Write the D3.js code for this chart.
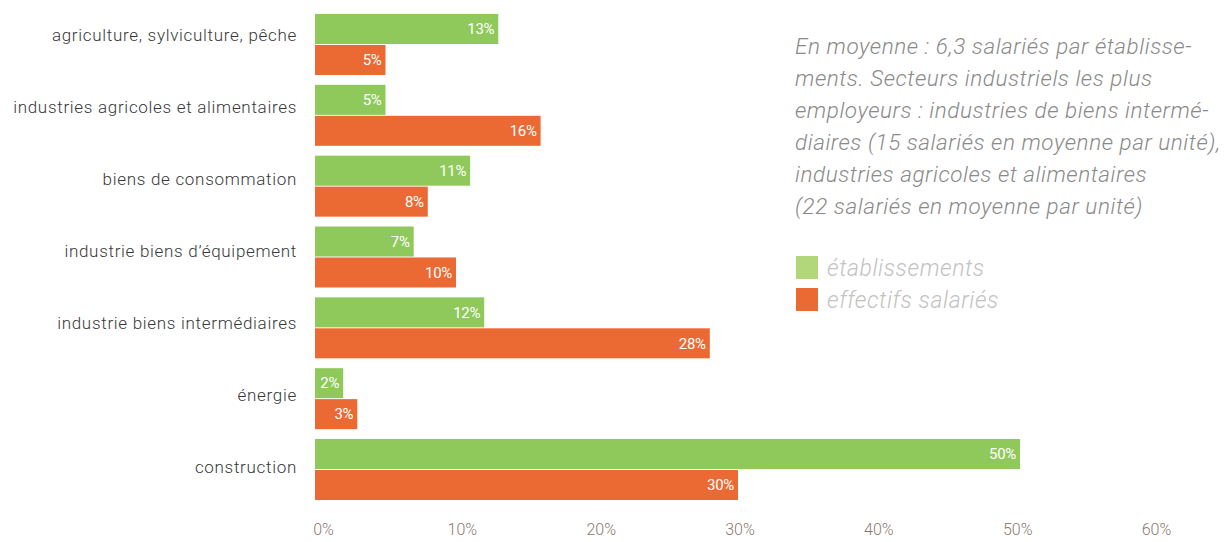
<!DOCTYPE html>
<html>
<head>
<meta charset="utf-8">
<script src="https://cdn.jsdelivr.net/npm/d3@7"></script>
<style>
  html, body { margin: 0; padding: 0; background: #fff; }
  svg { display: block; font-family: Roboto, "DejaVu Sans", sans-serif; }
</style>
</head>
<body>
<svg id="chart" width="1227" height="542"></svg>
<script>
// Sectors, top to bottom
const categories = [
  "agriculture, sylviculture, pêche",
  "industries agricoles et alimentaires",
  "biens de consommation",
  "industrie biens d\u2019équipement",
  "industrie biens intermédiaires",
  "énergie",
  "construction"
];
// Share of establishments (%) per sector
const etablissements = [13, 5, 11, 7, 12, 2, 50];
// Share of salaried staff (%) per sector
const effectifs = [5, 16, 8, 10, 28, 3, 30];
const seriesNames = ["établissements", "effectifs salariés"];
const tickValues = [0, 10, 20, 30, 40, 50, 60];
const noteLines = [
  "En moyenne : 6,3 salariés par établisse-",
  "ments. Secteurs industriels les plus",
  "employeurs : industries de biens intermé-",
  "diaires (15 salariés en moyenne par unité),",
  "industries agricoles et alimentaires",
  "(22 salariés en moyenne par unité)"
];

const colors = { bar: ["#8fc95c", "#eb6a33"], legend: ["#b2d67a", "#eb6a33"] };

const svg = d3.select("#chart");

const rows = categories.map((c, i) => ({ cat: c, values: [etablissements[i], effectifs[i]] }));

// Horizontal value scale for the bars
const x = d3.scaleLinear().domain([0, 50]).range([315, 1020]);
// Tick labels sit on their own evenly spaced track
const xTicks = d3.scaleLinear().domain([0, 60]).range([323, 1156]);

// Sector groups
const y = d3.scaleBand().domain(categories).range([14, 500]).paddingInner(0.139).paddingOuter(0);
const ySub = d3.scaleBand().domain([0, 1]).range([0, y.bandwidth()]).paddingInner(0.03);
// Sector labels on their own track
const yLabel = d3.scalePoint().domain(categories).range([35, 467]);

// Bars
const groups = svg.append("g").selectAll("g")
  .data(rows).join("g")
  .attr("transform", d => `translate(0,${y(d.cat)})`);

groups.selectAll("rect")
  .data(d => d.values.map((v, k) => ({ v, k })))
  .join("rect")
  .attr("x", x(0))
  .attr("y", d => ySub(d.k))
  .attr("width", d => x(d.v) - x(0))
  .attr("height", ySub.bandwidth())
  .attr("fill", d => colors.bar[d.k]);

groups.selectAll("text")
  .data(d => d.values.map((v, k) => ({ v, k })))
  .join("text")
  .attr("x", d => x(d.v) - 4)
  .attr("y", d => ySub(d.k) + ySub.bandwidth() / 2)
  .attr("dy", "0.35em")
  .attr("text-anchor", "end")
  .attr("fill", "#fff")
  .attr("font-size", 15)
  .attr("font-weight", 400)
  .attr("letter-spacing", -0.3)
  .text(d => d.v + "%");

// Sector labels
const yAxis = d3.axisLeft(yLabel).tickSize(0).tickPadding(0);
svg.append("g")
  .attr("transform", "translate(297,0)")
  .call(yAxis)
  .call(g => g.select(".domain").remove())
  .selectAll("text")
  .attr("font-family", "Roboto, sans-serif")
  .attr("font-size", 17)
  .attr("font-weight", 300)
  .attr("letter-spacing", 0.7)
  .attr("fill", "#383838");

// Percentage axis at the bottom
const xAxis = d3.axisBottom(xTicks).tickValues(tickValues).tickFormat(d => d + "%").tickSize(0).tickPadding(0);
svg.append("g")
  .attr("transform", "translate(0,524)")
  .call(xAxis)
  .call(g => g.select(".domain").remove())
  .selectAll("text")
  .attr("font-family", "Roboto, sans-serif")
  .attr("font-size", 16)
  .attr("font-weight", 300)
  .attr("fill", "#8a7a72");

// Note
svg.append("g").selectAll("text")
  .data(noteLines).join("text")
  .attr("x", 795)
  .attr("y", (d, i) => 54 + i * 32)
  .attr("font-size", 22.5)
  .attr("font-style", "italic")
  .attr("font-weight", 300)
  .attr("letter-spacing", 0.55)
  .attr("fill", "#8a8a8a")
  .text(d => d);

// Legend
const legend = svg.append("g").selectAll("g")
  .data(seriesNames).join("g")
  .attr("transform", (d, i) => `translate(796,${256 + i * 32})`);
legend.append("rect")
  .attr("width", 22).attr("height", 23)
  .attr("fill", (d, i) => colors.legend[i]);
legend.append("text")
  .attr("x", 31).attr("y", 12).attr("dy", "0.35em")
  .attr("font-size", 23)
  .attr("font-style", "italic")
  .attr("font-weight", 300)
  .attr("letter-spacing", 0.6)
  .attr("fill", "#c2c2c2")
  .text(d => d);
</script>
</body>
</html>
